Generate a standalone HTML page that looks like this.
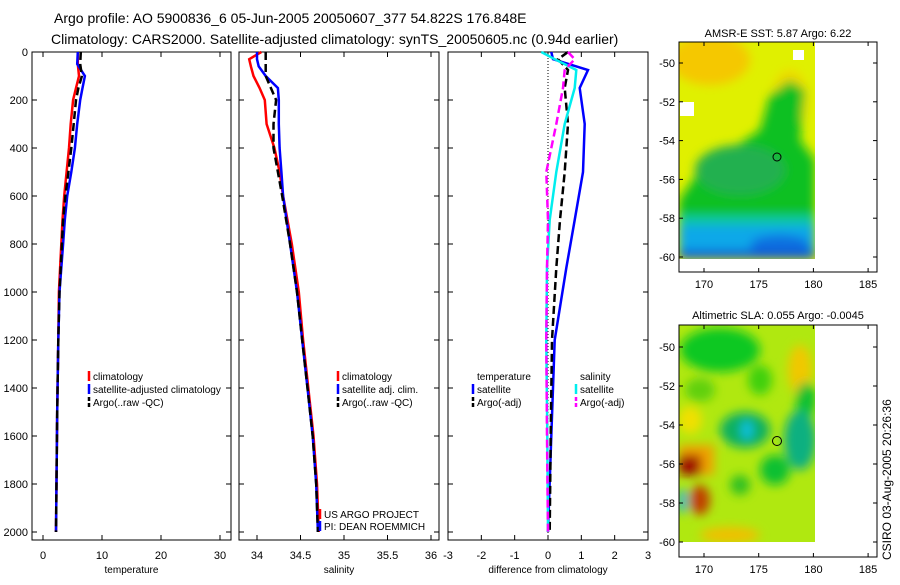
<!DOCTYPE html>
<html><head><meta charset="utf-8"><style>
body{margin:0;background:#fff;width:900px;height:580px;overflow:hidden}
svg text{font-family:"Liberation Sans",sans-serif}
</style></head><body>
<svg id="fig" width="900" height="580" viewBox="0 0 900 580" xmlns="http://www.w3.org/2000/svg">
<defs>
<filter id="bl" x="-20%" y="-20%" width="140%" height="140%"><feGaussianBlur stdDeviation="5"/></filter>
<clipPath id="c1"><rect x="679" y="42" width="136" height="217"/></clipPath>
<clipPath id="c2"><rect x="679" y="325" width="136" height="217"/></clipPath>
</defs>
<text x="54" y="23" font-size="14">Argo profile: AO 5900836_6 05-Jun-2005 20050607_377 54.822S 176.848E</text>
<text x="51" y="44" font-size="14">Climatology: CARS2000. Satellite-adjusted climatology: synTS_20050605.nc (0.94d earlier)</text>

<g>
<text x="778" y="37" font-size="11" text-anchor="middle">AMSR-E SST: 5.87 Argo: 6.22</text>
<g clip-path="url(#c1)">
<rect x="679" y="42" width="136" height="217" fill="#e0f000"/>
<g filter="url(#bl)">
<ellipse cx="710" cy="60" rx="40" ry="25" fill="#f5c800"/>
<ellipse cx="790" cy="100" rx="18" ry="30" fill="#f0d800"/>
<path d="M679 200 L700 170 L730 150 L760 130 L770 95 L790 80 L805 90 L800 140 L815 160 L815 259 L679 259Z" fill="#10c020"/>
<ellipse cx="740" cy="170" rx="45" ry="25" fill="#20b050"/>
<rect x="679" y="215" width="136" height="20" fill="#10c8a0"/>
<rect x="679" y="225" width="136" height="34" fill="#10a8e8"/>
<ellipse cx="780" cy="245" rx="30" ry="10" fill="#1070e0"/>
<rect x="679" y="250" width="136" height="9" fill="#0858d8"/>
</g>
<rect x="680" y="102" width="14" height="14" fill="#fff"/>
<rect x="793" y="50" width="11" height="10" fill="#fff"/>
</g>
<circle cx="777" cy="157" r="4" fill="none" stroke="#000"/>
<rect x="679" y="42" width="198" height="230" fill="none" stroke="#000"/>
</g>

<g>
<text x="778" y="319" font-size="11" text-anchor="middle">Altimetric SLA: 0.055 Argo: -0.0045</text>
<g clip-path="url(#c2)">
<rect x="679" y="325" width="136" height="217" fill="#b0e810"/>
<g filter="url(#bl)">
<ellipse cx="720" cy="350" rx="40" ry="22" fill="#10c820"/>
<ellipse cx="700" cy="390" rx="15" ry="12" fill="#60d010"/>
<ellipse cx="760" cy="380" rx="12" ry="15" fill="#40d010"/>
<ellipse cx="800" cy="370" rx="12" ry="25" fill="#f0c800"/>
<ellipse cx="806" cy="400" rx="10" ry="18" fill="#10c030"/>
<ellipse cx="745" cy="430" rx="25" ry="18" fill="#10b060"/>
<ellipse cx="747" cy="430" rx="6" ry="10" fill="#10c0e0"/>
<ellipse cx="800" cy="440" rx="16" ry="30" fill="#10b080"/>
<ellipse cx="690" cy="420" rx="12" ry="14" fill="#f0e000"/>
<rect x="679" y="445" width="35" height="30" fill="#f0a000"/>
<rect x="679" y="455" width="22" height="20" fill="#a01000"/>
<ellipse cx="700" cy="500" rx="10" ry="15" fill="#c04000"/>
<rect x="679" y="490" width="8" height="22" fill="#10b0e8"/>
<ellipse cx="775" cy="470" rx="15" ry="15" fill="#10c030"/>
<ellipse cx="740" cy="485" rx="10" ry="10" fill="#30c020"/>
<ellipse cx="730" cy="535" rx="30" ry="8" fill="#f0c000"/>
</g>
</g>
<circle cx="777" cy="441" r="4.5" fill="none" stroke="#000"/>
<rect x="679" y="325" width="198" height="232" fill="none" stroke="#000"/>
</g>

<text transform="translate(891,560) rotate(-90)" font-size="12">CSIRO 03-Aug-2005 20:26:36</text>
</svg>
<script>
// ---- data ----
var depthT = [0, 50, 100, 150, 200, 300, 400, 500, 600, 700, 800, 1000, 1200, 1500, 2000];
var tempClim = [5.9, 5.9, 6.1, 5.6, 5.1, 4.7, 4.4, 4.0, 3.6, 3.3, 3.1, 2.7, 2.6, 2.4, 2.2];
var tempSat = [5.9, 5.8, 7.1, 6.7, 6.3, 5.8, 5.4, 4.8, 4.1, 3.7, 3.4, 2.8, 2.6, 2.4, 2.2];
var tempArgo = [6.4, 6.3, 6.6, 6.0, 5.6, 5.2, 4.8, 4.3, 3.8, 3.4, 3.2, 2.8, 2.6, 2.4, 2.2];
var depthS = [0, 30, 60, 100, 150, 200, 300, 400, 500, 600, 800, 1000, 1200, 1400, 1600, 1800, 2000];
var salClim = [34.05, 33.91, 33.93, 33.96, 34.03, 34.09, 34.11, 34.20, 34.26, 34.30, 34.40, 34.48, 34.53, 34.59, 34.65, 34.69, 34.71];
var salSat = [34.0, 34.0, 34.02, 34.1, 34.24, 34.25, 34.25, 34.26, 34.28, 34.30, 34.38, 34.46, 34.52, 34.58, 34.64, 34.68, 34.70];
var salArgo = [34.1, 34.1, 34.1, 34.1, 34.16, 34.22, 34.19, 34.19, 34.24, 34.29, 34.38, 34.46, 34.52, 34.58, 34.64, 34.68, 34.70];
var depthD = [0, 30, 75, 150, 300, 500, 700, 900, 1200, 1600, 2000];
var dTempSat = [0.1, 0.15, 1.2, 0.95, 1.1, 1.05, 0.8, 0.55, 0.2, 0.1, 0.0];
var dTempArgo = [0.6, 0.3, 0.6, 0.5, 0.6, 0.5, 0.36, 0.25, 0.12, 0.08, 0.05];
var dSalSat = [-0.2, 0.2, 0.85, 0.8, 0.5, 0.25, 0.05, -0.03, -0.05, -0.02, 0.0];
var dSalArgo = [0.6, 0.8, 0.5, 0.45, 0.25, -0.05, 0.0, -0.03, -0.05, -0.03, 0.0];
var depthTicks = [0, 200, 400, 600, 800, 1000, 1200, 1400, 1600, 1800, 2000];
var tTicks = [0, 10, 20, 30];
var sTicks = [34, 34.5, 35, 35.5, 36];
var sTickLabels = ["34", "34.5", "35", "35.5", "36"];
var dTicks = [-3, -2, -1, 0, 1, 2, 3];
var latTicks = [-50, -52, -54, -56, -58, -60];
var lonTicks = [170, 175, 180, 185];

var NS = "http://www.w3.org/2000/svg";
var svg = document.getElementById('fig');
function mk(tag, attrs, parent) {
  var e = document.createElementNS(NS, tag);
  for (var k in attrs) e.setAttribute(k, attrs[k]);
  (parent || svg).appendChild(e);
  return e;
}
var yTop = 52, yBot = 540;
function yD(d) { return yTop + d * 0.24; }
var panels = [
  {name: 'temperature', x0: 32, x1: 231, v0: 0, v1: 30, a: 43, b: 220, ticks: tTicks, labels: tTicks.map(String), title: 'temperature'},
  {name: 'salinity', x0: 239, x1: 439, v0: 34, v1: 36, a: 257, b: 431, ticks: sTicks, labels: sTickLabels, title: 'salinity'},
  {name: 'difference', x0: 448, x1: 648, v0: -3, v1: 3, a: 448, b: 648, ticks: dTicks, labels: dTicks.map(String), title: 'difference from climatology'}
];
panels.forEach(function (p, i) {
  p.x = function (v) { return p.a + (v - p.v0) / (p.v1 - p.v0) * (p.b - p.a); };
  var g = mk('g', {});
  
  
  p.g = g;
  var r = mk('rect', {x: p.x0, y: yTop, width: p.x1 - p.x0, height: yBot - yTop, fill: 'none', stroke: '#000'}, g);
  
  
  depthTicks.forEach(function (d) {
    var y = yD(d);
    mk('line', {x1: p.x0, x2: p.x0 + 5, y1: y, y2: y, stroke: '#000'}, g);
    mk('line', {x1: p.x1, x2: p.x1 - 5, y1: y, y2: y, stroke: '#000'}, g);
    if (i === 0) {
      var t = mk('text', {x: 28, y: y + 4, 'font-size': 11, 'text-anchor': 'end'}, g);
      
      
      t.textContent = d;
    }
  });
  p.ticks.forEach(function (v, j) {
    var x = p.x(v);
    mk('line', {x1: x, x2: x, y1: yTop, y2: yTop + 5, stroke: '#000'}, g);
    mk('line', {x1: x, x2: x, y1: yBot, y2: yBot - 5, stroke: '#000'}, g);
    var t = mk('text', {x: x, y: 559, 'font-size': 11, 'text-anchor': 'middle'}, g);
    
    
    t.textContent = p.labels[j];
  });
  var at = mk('text', {x: (p.x0 + p.x1) / 2, y: 573, 'font-size': 10, 'text-anchor': 'middle'}, g);
  
  
  at.textContent = p.title;
});
function line(p, depths, vals, color, dash, name) {
  var pts = depths.map(function (d, k) { return p.x(vals[k]).toFixed(1) + ',' + yD(d).toFixed(1); }).join(' ');
  var pl = mk('polyline', {points: pts, fill: 'none', stroke: color, 'stroke-width': 2.5, 'stroke-dasharray': dash || 'none'}, p.g);
  
  
}
var P = panels;
line(P[0], depthT, tempClim, '#f00', null, 'temp-climatology-line');
line(P[0], depthT, tempSat, '#00f', null, 'temp-satellite-line');
line(P[0], depthT, tempArgo, '#000', '8,4', 'temp-argo-line');
line(P[1], depthS, salClim, '#f00', null, 'sal-climatology-line');
line(P[1], depthS, salSat, '#00f', null, 'sal-satellite-line');
line(P[1], depthS, salArgo, '#000', '8,4', 'sal-argo-line');
var zl = mk('line', {x1: P[2].x(0), x2: P[2].x(0), y1: yTop, y2: yBot, stroke: '#000', 'stroke-dasharray': '1,2'}, P[2].g);


line(P[2], depthD, dTempSat, '#00f', null, 'dtemp-satellite-line');
line(P[2], depthD, dTempArgo, '#000', '8,4', 'dtemp-argo-line');
line(P[2], depthD, dSalSat, '#0ee', null, 'dsal-satellite-line');
line(P[2], depthD, dSalArgo, '#f0f', '8,4', 'dsal-argo-line');

function legend(items, x, y0, dy, name) {
  var g = mk('g', {});
  
  
  items.forEach(function (it, k) {
    var y = y0 + k * dy;
    if (it[1]) mk('line', {x1: x, x2: x, y1: y - 9, y2: y + 1, stroke: it[1], 'stroke-width': 2.5, 'stroke-dasharray': it[2] ? '4,2' : 'none'}, g);
    var t = mk('text', {x: x + 4, y: y, 'font-size': 10}, g);
    
    
    t.textContent = it[0];
  });
}
legend([['climatology', '#f00'], ['satellite-adjusted climatology', '#00f'], ['Argo(..raw -QC)', '#000', 1]], 89, 380, 13, 'temperature-legend');
legend([['climatology', '#f00'], ['satellite adj. clim.', '#00f'], ['Argo(..raw -QC)', '#000', 1]], 338, 380, 13, 'salinity-legend');
legend([['temperature', null], ['satellite', '#00f'], ['Argo(-adj)', '#000', 1]], 473, 380, 13, 'diff-temp-legend');
legend([['salinity', null], ['satellite', '#0ee'], ['Argo(-adj)', '#f0f', 1]], 576, 380, 13, 'diff-sal-legend');
legend([['US ARGO PROJECT', '#f00'], ['PI: DEAN ROEMMICH', '#00f']], 320, 518, 12, 'project-credit');

// map axes
function mapAxes(yLat50, yLat60, yBox1, name) {
  var g = mk('g', {});
  
  
  var top = yBox1 === 272 ? 42 : 325;
  latTicks.forEach(function (l) {
    var y = yLat50 + (l + 50) / -10 * (yLat60 - yLat50);
    mk('line', {x1: 679, x2: 683, y1: y, y2: y, stroke: '#000'}, g);
    mk('line', {x1: 877, x2: 873, y1: y, y2: y, stroke: '#000'}, g);
    var t = mk('text', {x: 675, y: y + 4, 'font-size': 11, 'text-anchor': 'end'}, g);
    
    
    t.textContent = l;
  });
  lonTicks.forEach(function (l) {
    var x = 704 + (l - 170) / 5 * 54.7;
    mk('line', {x1: x, x2: x, y1: yBox1, y2: yBox1 - 4, stroke: '#000'}, g);
    mk('line', {x1: x, x2: x, y1: top, y2: top + 4, stroke: '#000'}, g);
    var t = mk('text', {x: x, y: yBox1 + 16, 'font-size': 11, 'text-anchor': 'middle'}, g);
    
    
    t.textContent = l;
  });
}
mapAxes(63, 257, 272, 'sst-map');
mapAxes(347, 542, 557, 'sla-map');
</script>
</body></html>
